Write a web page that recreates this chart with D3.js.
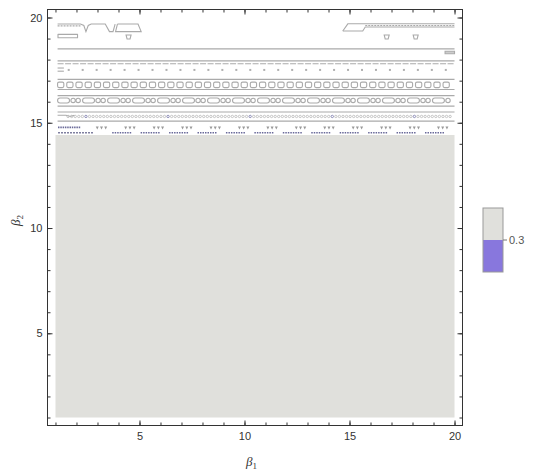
<!DOCTYPE html>
<html><head><meta charset="utf-8">
<script src="https://cdn.jsdelivr.net/npm/d3@7"></script>
<style>body{margin:0;background:#fff} svg{display:block} text{font-family:"Liberation Sans",Arial,sans-serif}</style>
</head><body><svg id="c" width="534" height="473"></svg>
<script>
// ---- data ----
const xTicks = [5, 10, 15, 20];
const yTicks = [5, 10, 15, 20];
const minorTicks = d3.range(1, 21);
const regionB1 = [1, 20];          // filled region (value < 0.3 side shown grey)
const regionB2 = [1, 14.42];
const legendLevels = [0.3];
const legendColors = ["#e0e0dc", "#8877dd"];
// straight contour lines (beta2 levels)
const contourLevels = [18.51, 17.94, 17.06, 16.58, 16.29, 15.79, 15.51, 15.08];
const wavyLevels = [17.80];
// irregular contour pieces near top, [beta1, beta2]
const topLeftPath = [[1.10,19.69],[2.19,19.69],[2.35,19.62],[2.45,19.33],[2.56,19.62],[2.7,19.69],[3.37,19.69],[3.57,19.33],[3.74,19.33],[3.84,19.69]];
const topLeftBand = [[1.10,19.60],[2.19,19.60]];
const trapezoid = [[3.95,19.69],[4.93,19.69],[5.08,19.33],[3.86,19.33],[3.95,19.69]];
const loopLeft = [[1.12,19.20],[2.05,19.20],[2.05,19.04],[1.12,19.04]];
const smallUs = [[4.48,19.17],[16.77,19.17],[18.15,19.17]];
const topRightPath = [[14.68,19.36],[14.92,19.70],[20.0,19.70]];
const topRightLower = [[14.68,19.36],[15.63,19.36],[15.75,19.55],[20.0,19.55]];
const rightBlob = [[19.55,18.40],[20.0,18.40],[20.0,18.28],[19.55,18.28]];
// repeating loop rows: [beta2, startBeta1, endBeta1, periodBeta1]
const dotRow = [17.51, 1.63, 19.8, 0.665];
const boxRow = [16.79, 1.10, 19.7, 0.437];
const mixedRow = [16.06, 1.10, 19.9, 1.19];
const tinyRow = [15.30, 1.60, 19.9, 0.17];
const triRow = [14.75, 2.99, 19.5, 1.354];
const darkRow = [14.53, 3.70, 19.9, 1.354];

// ---- setup ----
const svg = d3.select("#c");
const x = d3.scaleLinear().domain([0.62, 20.38]).range([47.5, 462.5]);
const y = d3.scaleLinear().domain([0.62, 20.38]).range([425.5, 9.5]);
const line = d3.line().x(d => x(d[0])).y(d => y(d[1]));
const lineCol = "#aaaaaa";

// region
svg.append("rect")
  .attr("x", x(regionB1[0])).attr("y", y(regionB2[1]))
  .attr("width", x(regionB1[1]) - x(regionB1[0]))
  .attr("height", y(regionB2[0]) - y(regionB2[1]))
  .attr("fill", legendColors[0]);

const g = svg.append("g").attr("fill", "none").attr("stroke", lineCol).attr("stroke-width", 1.1);

contourLevels.forEach(l => g.append("path").attr("d", line([[1.1, l], [20, l]])));
wavyLevels.forEach(l => g.append("path").attr("d", line([[1.1, l], [20, l]])).attr("stroke-dasharray", "6,1.5"));

g.append("path").attr("d", line(topLeftPath));
g.append("path").attr("d", line(topLeftBand)).attr("stroke-dasharray", "2,1");
g.append("path").attr("d", line(trapezoid));
g.append("path").attr("d", line(loopLeft) + "Z").attr("stroke-linejoin", "round");
g.append("path").attr("d", line(topRightPath));
g.append("path").attr("d", line(topRightLower));
g.append("path").attr("d", line([[15.75, 19.62], [20, 19.62]])).attr("stroke-dasharray", "2,1");
g.append("path").attr("d", line(rightBlob) + "Z").attr("fill", "#ccc");
smallUs.forEach(p => {
  g.append("path").attr("d", `M${x(p[0]) - 2.5},${y(p[1])} h5 l-1,4 h-3 z`);
});

// dots
d3.range(dotRow[1], dotRow[2], dotRow[3]).forEach(b => {
  svg.append("rect").attr("x", x(b) - 1).attr("y", y(dotRow[0]) - 1).attr("width", 2).attr("height", 2).attr("fill", "#b0b0b0");
});
g.append("path").attr("d", line([[1.1, 17.60], [1.4, 17.60]]));
g.append("path").attr("d", line([[1.1, 17.45], [1.4, 17.45]]));

// box row
d3.range(boxRow[1], boxRow[2], boxRow[3]).forEach(b => {
  g.append("rect").attr("x", x(b)).attr("y", y(boxRow[0]) - 3)
    .attr("width", x(b + boxRow[3] * 0.68) - x(b)).attr("height", 5.5).attr("rx", 1.5);
});

// mixed row
d3.range(mixedRow[1], mixedRow[2], mixedRow[3]).forEach((b, i) => {
  const cy = y(mixedRow[0]);
  g.append("rect").attr("x", x(b)).attr("y", cy - 2.5)
    .attr("width", x(b + 0.57) - x(b)).attr("height", 5).attr("rx", 2.5);
  [0.74, 0.98].forEach(o => {
    if (b + o < mixedRow[2]) g.append("circle").attr("cx", x(b + o)).attr("cy", cy).attr("r", 2.2);
  });
});

// tiny loop row
d3.range(tinyRow[1], tinyRow[2], tinyRow[3]).forEach((b, i) => {
  svg.append("circle").attr("cx", x(b)).attr("cy", y(tinyRow[0])).attr("r", 1.2)
    .attr("fill", "none").attr("stroke", i % 23 === 5 ? "#7777aa" : "#b8b8b8").attr("stroke-width", 0.8);
});
g.append("path").attr("d", line([[1.1, 15.36], [1.5, 15.36], [1.7, 15.30], [1.9, 15.36]]));

// triangle row
d3.range(triRow[1], triRow[2], triRow[3]).forEach(b => {
  [0, 0.2, 0.4].forEach(o => {
    svg.append("path").attr("d", `M${x(b + o) - 1.5},${y(triRow[0]) - 1.5} h3 l-1.5,3 z`)
      .attr("fill", "#999");
  });
});
svg.append("path").attr("d", line([[1.12, 14.78], [2.2, 14.78]]))
  .attr("stroke", "#6b6b99").attr("stroke-width", 1.6).attr("stroke-dasharray", "1.5,0.8").attr("fill", "none");

// dark row
svg.append("path").attr("d", line([[1.12, darkRow[0]], [2.8, darkRow[0]]]))
  .attr("stroke", "#8080a0").attr("stroke-width", 1.5).attr("stroke-dasharray", "2,1").attr("fill", "none");
d3.range(darkRow[1], darkRow[2], darkRow[3]).forEach(b => {
  svg.append("path").attr("d", line([[b, darkRow[0]], [Math.min(b + 0.95, 20), darkRow[0]]]))
    .attr("stroke", "#6a6a9a").attr("stroke-width", 1.5).attr("stroke-dasharray", "1.5,1").attr("fill", "none");
});

// ---- axes ----
const axCol = "#333";
function styleAxis(sel) {
  sel.select(".domain").remove();
  sel.selectAll("line").attr("stroke", axCol);
  sel.selectAll("text").attr("fill", "#333").attr("font-size", 11);
}
svg.append("g").attr("transform", "translate(0,425.5)")
  .call(d3.axisBottom(x).tickValues(minorTicks).tickSize(-3).tickFormat("")).call(styleAxis);
svg.append("g").attr("transform", "translate(0,425.5)")
  .call(d3.axisBottom(x).tickValues(xTicks).tickSize(-5).tickPadding(7).tickFormat(d3.format("d"))).call(styleAxis);
svg.append("g").attr("transform", "translate(0,9.5)")
  .call(d3.axisTop(x).tickValues(minorTicks).tickSize(-3).tickFormat("")).call(styleAxis);
svg.append("g").attr("transform", "translate(0,9.5)")
  .call(d3.axisTop(x).tickValues(xTicks).tickSize(-5).tickFormat("")).call(styleAxis);
svg.append("g").attr("transform", "translate(47.5,0)")
  .call(d3.axisLeft(y).tickValues(minorTicks).tickSize(-3).tickFormat("")).call(styleAxis);
svg.append("g").attr("transform", "translate(47.5,0)")
  .call(d3.axisLeft(y).tickValues(yTicks).tickSize(-5).tickPadding(5).tickFormat(d3.format("d"))).call(styleAxis);
svg.append("g").attr("transform", "translate(462.5,0)")
  .call(d3.axisRight(y).tickValues(minorTicks).tickSize(-3).tickFormat("")).call(styleAxis);
svg.append("g").attr("transform", "translate(462.5,0)")
  .call(d3.axisRight(y).tickValues(yTicks).tickSize(-5).tickFormat("")).call(styleAxis);

svg.append("rect").attr("x", 47.5).attr("y", 9.5).attr("width", 415).attr("height", 416)
  .attr("fill", "none").attr("stroke", axCol).attr("stroke-width", 1);

// axis labels
const lab1 = svg.append("text").attr("x", 246).attr("y", 466).attr("font-size", 13).attr("fill", "#333")
  .style("font-family", "'Liberation Serif',serif").attr("font-style", "italic");
lab1.append("tspan").text("β");
lab1.append("tspan").attr("font-size", 9).attr("dy", 3).attr("font-style", "normal").text("1");
const lab2 = svg.append("text").attr("transform", "translate(20,226) rotate(-90)").attr("font-size", 13).attr("fill", "#333")
  .style("font-family", "'Liberation Serif',serif").attr("font-style", "italic");
lab2.append("tspan").text("β");
lab2.append("tspan").attr("font-size", 9).attr("dy", 3).attr("font-style", "normal").text("2");

// ---- legend ----
const ly = d3.scaleLinear().domain([0, 0.6]).range([272, 208]);
svg.append("rect").attr("x", 483).attr("y", ly(0.6)).attr("width", 20).attr("height", ly(0.3) - ly(0.6)).attr("fill", legendColors[0]);
svg.append("rect").attr("x", 483).attr("y", ly(0.3)).attr("width", 20).attr("height", ly(0) - ly(0.3)).attr("fill", legendColors[1]);
svg.append("rect").attr("x", 483).attr("y", ly(0.6)).attr("width", 20).attr("height", ly(0) - ly(0.6))
  .attr("fill", "none").attr("stroke", "#999");
legendLevels.forEach(v => {
  svg.append("line").attr("x1", 503).attr("x2", 507).attr("y1", ly(v)).attr("y2", ly(v)).attr("stroke", "#777");
  svg.append("text").attr("x", 509).attr("y", ly(v)).attr("dy", "0.35em").attr("font-size", 11).attr("fill", "#555").text(v);
});
</script></body></html>
